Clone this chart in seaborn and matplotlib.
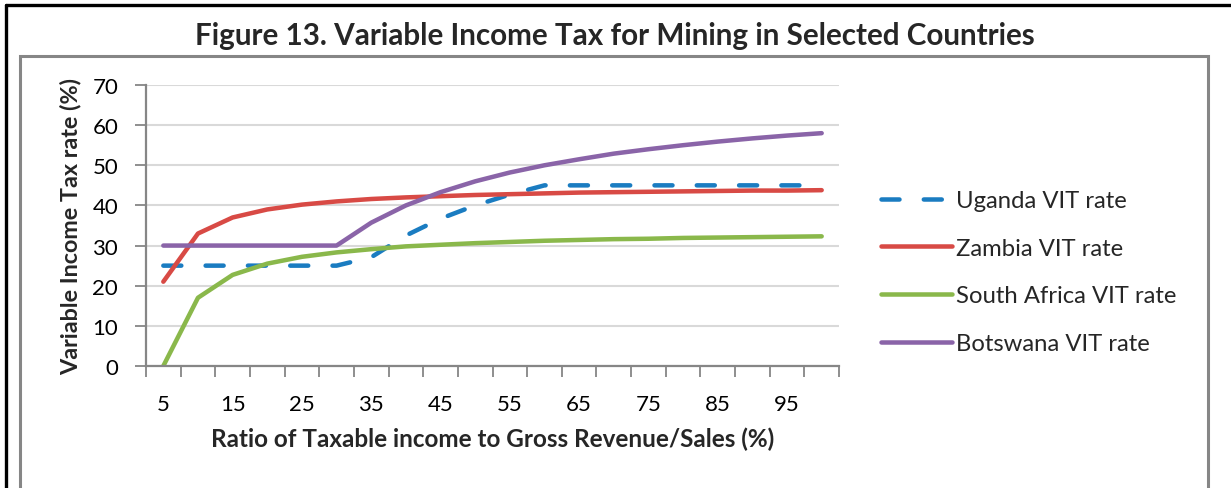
import matplotlib
matplotlib.use("Agg")
import matplotlib.pyplot as plt
from matplotlib.patches import Rectangle
from matplotlib.lines import Line2D
import numpy as np
import pandas as pd
import seaborn as sns

# Ratio of taxable income to gross revenue (%)
ratio = [5, 10, 15, 20, 25, 30, 35, 40, 45, 50, 55, 60, 65, 70, 75, 80, 85, 90, 95, 100]

# Variable income tax rates (%)
uganda = [25, 25, 25, 25, 25, 25, 27.1, 32.5, 36.7, 40, 42.7, 45, 45, 45, 45, 45, 45, 45, 45, 45]
zambia = [21, 33, 37, 39, 40.2, 41, 41.6, 42, 42.3, 42.6, 42.8, 43, 43.2, 43.3, 43.4, 43.5, 43.6, 43.7, 43.7, 43.8]
south_africa = [0, 17, 22.7, 25.5, 27.2, 28.3, 29.1, 29.8, 30.2, 30.6, 30.9, 31.2, 31.4, 31.6, 31.7, 31.9, 32.0, 32.1, 32.2, 32.3]
botswana = [30, 30, 30, 30, 30, 30, 35.7, 40, 43.3, 46, 48.2, 50, 51.5, 52.9, 54, 55, 55.9, 56.7, 57.4, 58]

series_names = ["Uganda VIT rate", "Zambia VIT rate", "South Africa VIT rate", "Botswana VIT rate"]
series_values = [uganda, zambia, south_africa, botswana]
series_colors = ["#1a7cc1", "#d84a45", "#8ab84b", "#8a64a8"]

x_tick_labels = [5, 15, 25, 35, 45, 55, 65, 75, 85, 95]
y_ticks = [0, 10, 20, 30, 40, 50, 60, 70]

title = "Figure 13. Variable Income Tax for Mining in Selected Countries"
x_label = "Ratio of Taxable income to Gross Revenue/Sales (%)"
y_label = "Variable Income Tax rate (%)"

sns.set_theme(style="white")
plt.rcParams["font.family"] = ["Lato", "DejaVu Sans"]

W, H = 1231, 489
fig = plt.figure(figsize=(W / 100, H / 100), dpi=100)
fig.patch.set_facecolor("white")

ax_left, ax_right, ax_top, ax_bottom = 146, 839, 86, 367
ax = fig.add_axes([ax_left / W, 1 - ax_bottom / H, (ax_right - ax_left) / W, (ax_bottom - ax_top) / H])

df = pd.DataFrame({"ratio": ratio})
lw = 4.5 * 72 / 100
for name, vals, col in zip(series_names, series_values, series_colors):
    d = df.assign(rate=vals)
    if name.startswith("Uganda"):
        sns.lineplot(data=d, x="ratio", y="rate", ax=ax, color=col, lw=lw,
                     linestyle=(0, (4.0, 5.4)), dash_capstyle="round", label=name)
    else:
        sns.lineplot(data=d, x="ratio", y="rate", ax=ax, color=col, lw=lw,
                     solid_capstyle="round", label=name)

ax.set_xlim(2.5, 102.5)
ax.set_ylim(0, 70)
ax.set_yticks(y_ticks)
ax.set_xticks(x_tick_labels)
ax.set_xticklabels([str(v) for v in x_tick_labels])
ax.set_xticks(np.arange(2.5, 103, 5), minor=True)
ax.tick_params(axis="x", which="major", length=0, pad=20, labelsize=16, colors="black")
ax.tick_params(axis="x", which="minor", length=8, width=1.3, color="#868686", bottom=True, direction="out")
ax.tick_params(axis="y", which="major", length=8, width=1.3, color="#868686", left=True, direction="out",
               pad=12, labelsize=16, labelcolor="black")

ax.grid(axis="y", color="#d9d9d9", lw=1.5)
ax.set_axisbelow(True)
for s in ["top", "right"]:
    ax.spines[s].set_visible(False)
for s in ["left", "bottom"]:
    ax.spines[s].set_color("#868686")
    ax.spines[s].set_linewidth(1.6)

ax.set_xlabel(x_label, fontsize=17.5, fontweight="bold", labelpad=9)
ax.set_ylabel(y_label, fontsize=16.8, fontweight="bold", labelpad=8)

handles, labels = ax.get_legend_handles_labels()
ax.legend(handles, labels, loc="center left", bbox_to_anchor=(871 / W, 1 - 273 / H),
          bbox_transform=fig.transFigure, frameon=False, fontsize=17.2, handlelength=3.0,
          handletextpad=0.15, labelspacing=1.12, borderaxespad=0)

fig.text(615 / W, 1 - 36 / H, title, ha="center", va="center", fontsize=21.3, fontweight="bold")

# chart area frame and outer page border
fig.patches.append(Rectangle((20 / W, -0.1), (1208 - 20) / W, 1 - 57 / H + 0.1,
                             transform=fig.transFigure, fill=False, edgecolor="#868686", lw=2.2))
fig.lines.append(Line2D([6 / W, 1.0], [1 - 6 / H, 1 - 6 / H], transform=fig.transFigure, color="black", lw=2.4))
fig.lines.append(Line2D([6 / W, 6 / W], [0, 1 - 6 / H], transform=fig.transFigure, color="black", lw=2.4))

fig.savefig("out.png", dpi=100)
